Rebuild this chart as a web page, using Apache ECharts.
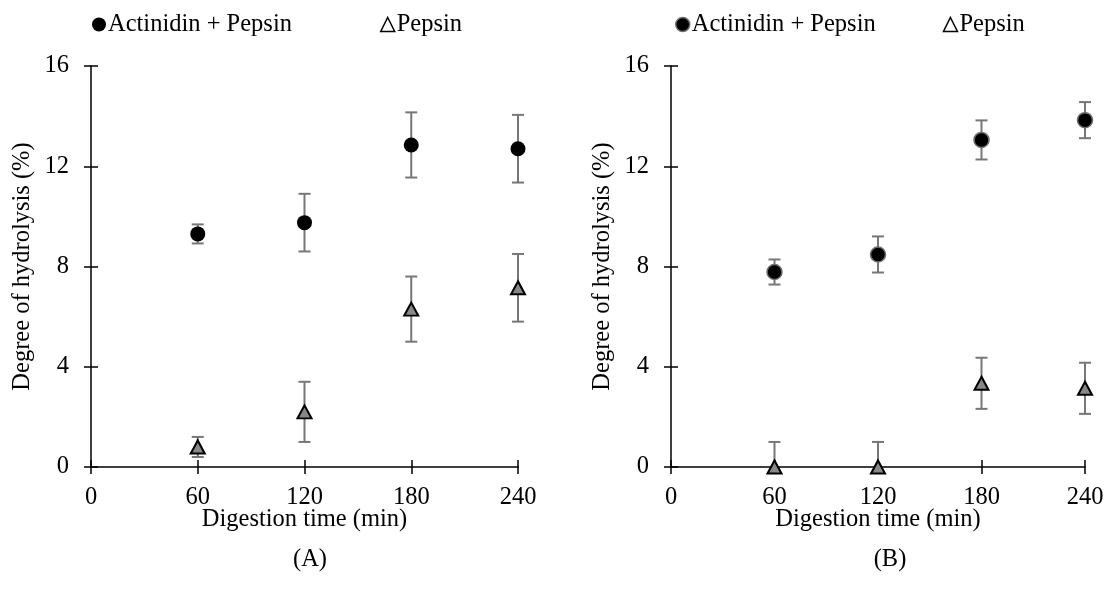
<!DOCTYPE html>
<html>
<head>
<meta charset="utf-8">
<script src="https://cdn.jsdelivr.net/npm/echarts@6/dist/echarts.min.js"></script>
<style>
  html, body { margin: 0; padding: 0; background: #fff; }
  #chart { width: 1110px; height: 603px; }
</style>
</head>
<body>
<div id="chart"></div>
<script>
// Digestion time points (min)
const times = [60, 120, 180, 240];
const xTicks = [0, 60, 120, 180, 240];
const yTicks = [0, 4, 8, 12, 16];

// Panel A: degree of hydrolysis (%) and error (±)
const aMix = [9.3, 9.75, 12.85, 12.7];
const aMixErr = [0.38, 1.15, 1.3, 1.35];
const aPep = [0.8, 2.2, 6.3, 7.15];
const aPepErr = [0.4, 1.2, 1.3, 1.35];

// Panel B: degree of hydrolysis (%) and error (±)
const bMix = [7.78, 8.48, 13.05, 13.84];
const bMixErr = [0.5, 0.72, 0.78, 0.72];
const bPep = [0, 0, 3.34, 3.14];
const bPepErr = [1.0, 1.0, 1.02, 1.02];

const names = ['Actinidin + Pepsin', 'Pepsin'];
const panelLabels = ['(A)', '(B)'];

const FONT = '"Liberation Serif", "Times New Roman", serif';
const FS = 24.5;

function pairs(vals) { return times.map((t, i) => [t, vals[i]]); }
function errPairs(vals, errs) { return times.map((t, i) => [t, vals[i] - errs[i], vals[i] + errs[i]]); }

// vertical error bar with caps; the part below the x axis is not drawn
function errorBars(xi, data) {
  return {
    type: 'custom', xAxisIndex: xi, yAxisIndex: xi, clip: false, z: 1,
    silent: true,
    data: data,
    renderItem: function (params, api) {
      const cs = params.coordSys;
      const bottom = cs.y + cs.height;
      const lo = api.coord([api.value(0), api.value(1)]);
      const hi = api.coord([api.value(0), api.value(2)]);
      const cap = 6;
      const style = { stroke: '#777', lineWidth: 2 };
      const loClamped = lo[1] > bottom;
      const yLo = loClamped ? bottom : lo[1];
      const children = [
        { type: 'line', shape: { x1: lo[0], y1: yLo, x2: hi[0], y2: hi[1] }, style: style },
        { type: 'line', shape: { x1: hi[0] - cap, y1: hi[1], x2: hi[0] + cap, y2: hi[1] }, style: style }
      ];
      if (!loClamped) {
        children.push({ type: 'line', shape: { x1: lo[0] - cap, y1: lo[1], x2: lo[0] + cap, y2: lo[1] }, style: style });
      }
      return { type: 'group', children: children };
    }
  };
}

const grids = [
  { left: 91, top: 66, width: 427, height: 401 },
  { left: 671, top: 66, width: 414, height: 401 }
];

const xAxes = [], yAxes = [];
grids.forEach((g, i) => {
  // main axes: outside ticks, labels, names
  xAxes.push({
    gridIndex: i, type: 'value', position: 'bottom', min: 0, max: 240, interval: 60,
    name: 'Digestion time (min)', nameLocation: 'middle', nameGap: 40, nameMoveOverlap: false,
    nameTextStyle: { fontFamily: FONT, fontSize: FS, color: '#000' },
    axisLine: { show: true, onZero: false, lineStyle: { color: '#000', width: 1.5 } },
    axisTick: { show: true, length: 7, lineStyle: { color: '#000', width: 1.5 } },
    axisLabel: { fontFamily: FONT, fontSize: FS, color: '#000', margin: 18,
      formatter: v => xTicks.includes(v) ? String(v) : '' },
    splitLine: { show: false }
  });
  yAxes.push({
    gridIndex: i, type: 'value', position: 'left', min: 0, max: 16, interval: 4,
    name: 'Degree of hydrolysis (%)', nameLocation: 'middle', nameGap: 56, nameMoveOverlap: false,
    nameTextStyle: { fontFamily: FONT, fontSize: FS, color: '#000' },
    axisLine: { show: true, onZero: false, lineStyle: { color: '#000', width: 1.5 } },
    axisTick: { show: true, length: 7, lineStyle: { color: '#000', width: 1.5 } },
    axisLabel: { fontFamily: FONT, fontSize: FS, color: '#000', margin: 22,
      formatter: v => yTicks.includes(v) ? String(v) : '' },
    splitLine: { show: false }
  });
});
// companion axes supplying the inner half of each crossing tick
grids.forEach((g, i) => {
  xAxes.push({
    gridIndex: i, type: 'value', position: 'bottom', min: 0, max: 240, interval: 60,
    axisLine: { show: false, onZero: false },
    axisTick: { show: true, inside: true, length: 7, lineStyle: { color: '#000', width: 1.5 } },
    axisLabel: { show: false }, splitLine: { show: false }
  });
  yAxes.push({
    gridIndex: i, type: 'value', position: 'left', min: 0, max: 16, interval: 4,
    axisLine: { show: false, onZero: false },
    axisTick: { show: true, inside: true, length: 7, lineStyle: { color: '#000', width: 1.5 } },
    axisLabel: { show: false }, splitLine: { show: false }
  });
});

const circleA = { color: '#000', opacity: 1 };
const circleB = { color: '#000', borderColor: '#6e6e6e', borderWidth: 1.5, opacity: 1 };
const triStyle = { color: '#888', borderColor: '#000', borderWidth: 2, opacity: 1 };

const series = [
  errorBars(0, errPairs(aMix, aMixErr)),
  errorBars(0, errPairs(aPep, aPepErr)),
  errorBars(1, errPairs(bMix, bMixErr)),
  errorBars(1, errPairs(bPep, bPepErr)),
  { name: names[0], type: 'scatter', xAxisIndex: 0, yAxisIndex: 0, z: 3, clip: false,
    symbol: 'circle', symbolSize: 15, itemStyle: circleA, data: pairs(aMix) },
  { name: names[1], type: 'scatter', xAxisIndex: 0, yAxisIndex: 0, z: 3, clip: false,
    symbol: 'triangle', symbolSize: [14, 13], itemStyle: triStyle, data: pairs(aPep) },
  { name: names[0], type: 'scatter', xAxisIndex: 1, yAxisIndex: 1, z: 3, clip: false,
    symbol: 'circle', symbolSize: 15, itemStyle: circleB, data: pairs(bMix) },
  { name: names[1], type: 'scatter', xAxisIndex: 1, yAxisIndex: 1, z: 3, clip: false,
    symbol: 'triangle', symbolSize: [14, 13], itemStyle: triStyle, data: pairs(bPep) }
];

function legendFor(left, gap, circleStyle) {
  return {
    left: left, top: 7, itemGap: gap, itemWidth: 14, itemHeight: 14,
    selectedMode: false,
    textStyle: { fontFamily: FONT, fontSize: FS, color: '#000', padding: [0, 0, 0, -3] },
    data: [
      { name: names[0], icon: 'circle', itemStyle: circleStyle },
      { name: names[1], icon: 'triangle', itemStyle: { color: '#fff', borderColor: '#000', borderWidth: 1.5, opacity: 1 } }
    ]
  };
}

const option = {
  backgroundColor: '#fff',
  animation: false,
  grid: grids,
  xAxis: xAxes,
  yAxis: yAxes,
  legend: [legendFor(87, 88, circleA), legendFor(670, 67, circleB)],
  title: [
    { text: panelLabels[0], left: 305, top: 542, textAlign: 'center',
      textStyle: { fontFamily: FONT, fontSize: FS, fontWeight: 'normal', color: '#000' } },
    { text: panelLabels[1], left: 885, top: 542, textAlign: 'center',
      textStyle: { fontFamily: FONT, fontSize: FS, fontWeight: 'normal', color: '#000' } }
  ],
  series: series
};

const chart = echarts.init(document.getElementById('chart'), null, { renderer: 'canvas' });
chart.setOption(option);
</script>
</body>
</html>
